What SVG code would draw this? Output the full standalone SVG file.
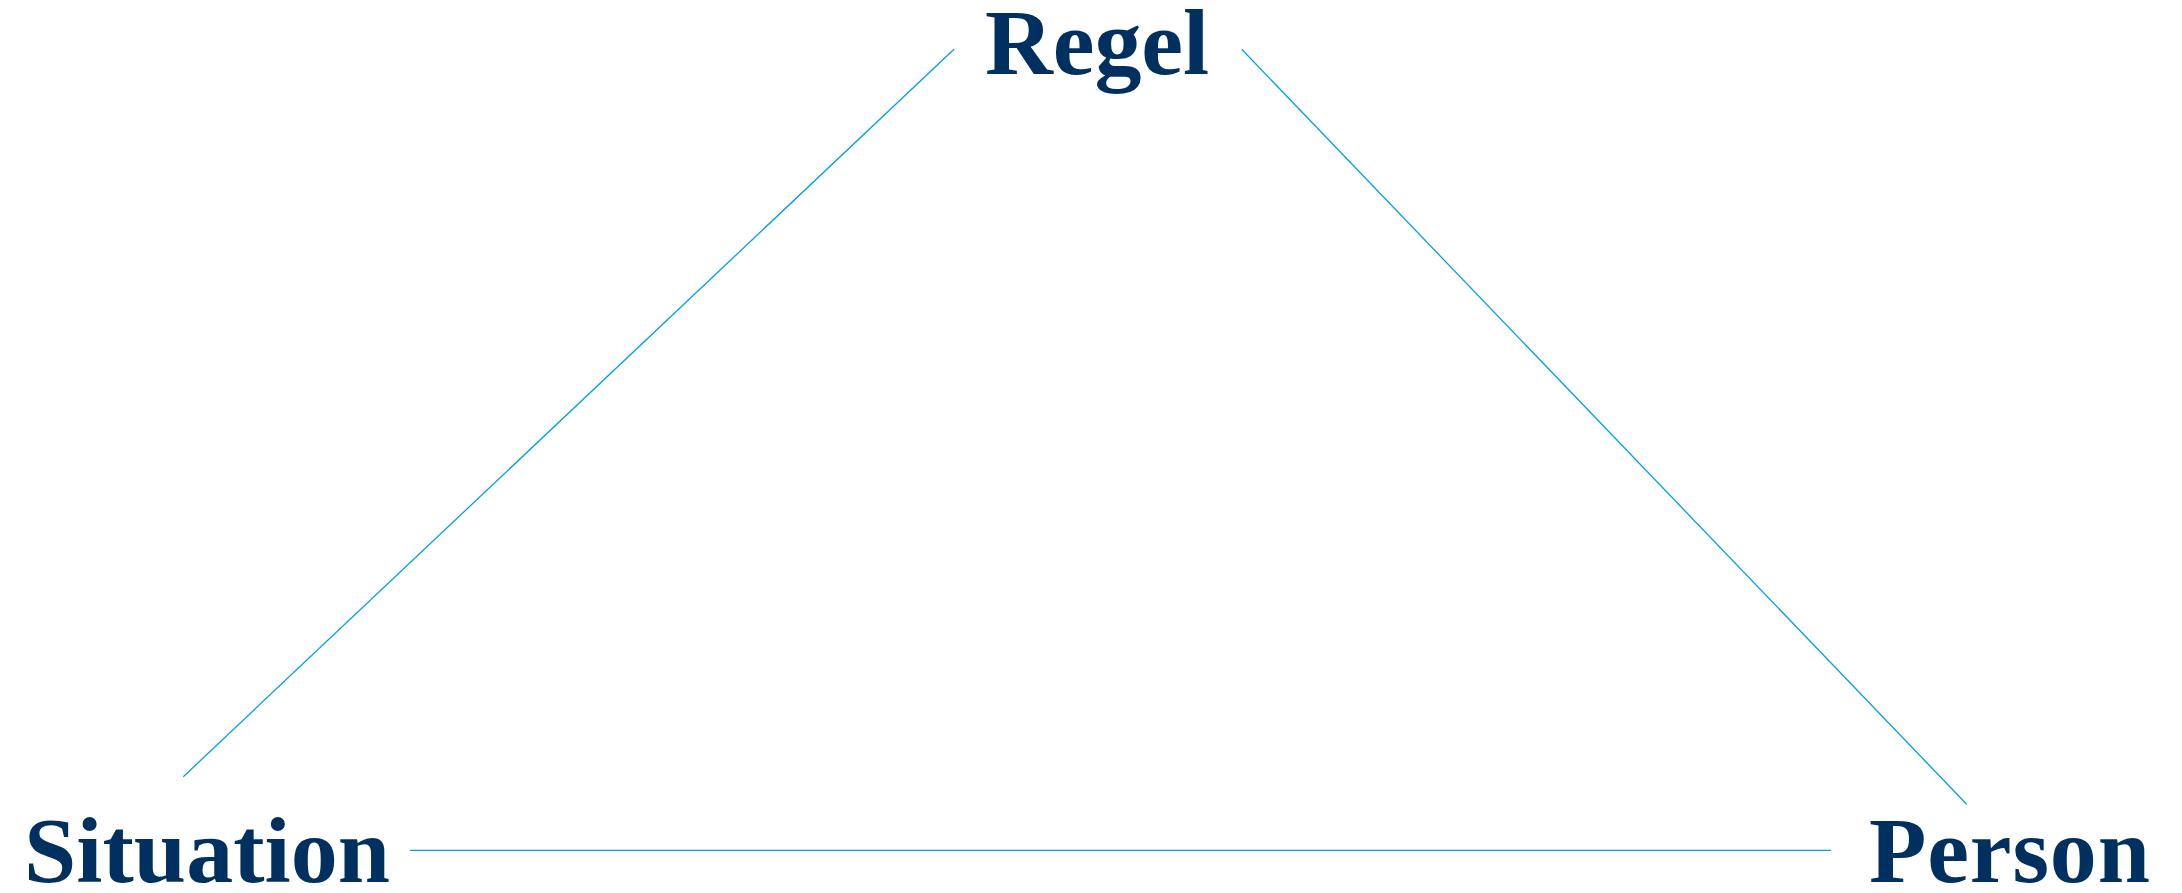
<svg xmlns="http://www.w3.org/2000/svg" width="2182" height="893" viewBox="0 0 2182 893">
<style>
.lbl{font-family:"Liberation Serif","Times New Roman",serif;font-weight:bold;font-size:94px;fill:#00305F}
.edge{stroke:#00A0E3;stroke-width:1.3;fill:none}
</style>
<rect width="2182" height="893" fill="#ffffff"/>
<g id="connectors">
<line class="edge" x1="954" y1="49.3" x2="183.3" y2="776.7"/>
<line class="edge" x1="1241.7" y1="49.3" x2="1966.7" y2="804.3"/>
<line class="edge" x1="410" y1="850.3" x2="1831" y2="850.3"/>
</g>
<g id="node-regel"><text class="lbl" x="985" y="74" textLength="224" lengthAdjust="spacing">Regel</text></g>
<g id="node-situation"><text class="lbl" x="24" y="881.5" textLength="366" lengthAdjust="spacing">Situation</text></g>
<g id="node-person"><text class="lbl" x="1869" y="881.5" textLength="281" lengthAdjust="spacing">Person</text></g>
</svg>
